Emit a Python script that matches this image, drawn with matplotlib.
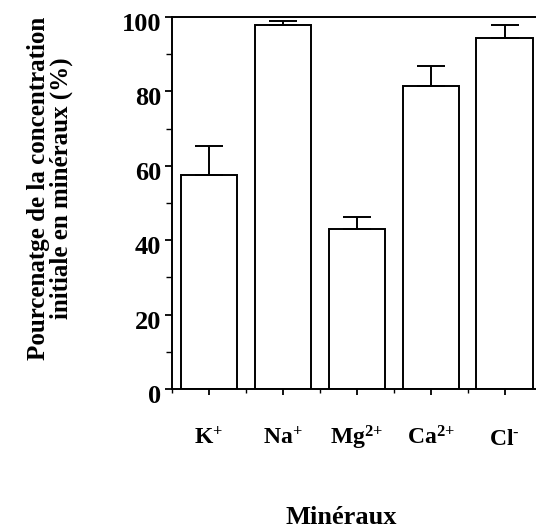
import matplotlib
matplotlib.use("Agg")
import matplotlib.pyplot as plt
import matplotlib.transforms as mtransforms
from matplotlib.ticker import MultipleLocator

categories = ["K$^{+}$", "Na$^{+}$", "Mg$^{2{+}}$", "Ca$^{2{+}}$", "Cl$^{\\text{-}}$"]
values = [57.5, 97.8, 42.9, 81.5, 94.4]
errors = [7.9, 1.0, 3.3, 5.3, 3.4]

plt.rcParams['font.family'] = ['Liberation Serif', 'DejaVu Serif']
plt.rcParams['font.weight'] = 'bold'
plt.rcParams['mathtext.fontset'] = 'custom'
plt.rcParams['mathtext.rm'] = 'Liberation Serif:bold'
plt.rcParams['mathtext.bf'] = 'Liberation Serif:bold'
plt.rcParams['mathtext.it'] = 'Liberation Serif:bold'

fig = plt.figure(figsize=(5.36, 5.31), dpi=100)
ax = fig.add_axes([172/536, 142/531, 369.5/536, 372/531])

x = list(range(len(categories)))
ax.bar(x, values, width=0.76, color='white', edgecolor='black', linewidth=1.4, zorder=2)
ax.errorbar(x, values, yerr=[[0]*len(errors), errors], fmt='none', ecolor='black',
            elinewidth=1.4, capsize=10, capthick=1.4, zorder=3)

ax.set_xlim(-0.5, 4.5)
ax.set_ylim(0, 100)
ax.spines['right'].set_visible(False)
for s in ['top', 'left', 'bottom']:
    ax.spines[s].set_linewidth(1.4)

ax.set_xticks(x)
ax.set_xticklabels(categories, fontsize=17, fontweight='bold', va='baseline')
ax.set_xticks([i + 0.5 for i in range(-1, 4)], minor=True)
ax.yaxis.set_major_locator(MultipleLocator(20))
ax.yaxis.set_minor_locator(MultipleLocator(10))
ax.tick_params(axis='x', which='major', length=4, width=1.3, pad=36, direction='out')
ax.tick_params(axis='x', which='minor', length=3, width=1.0, direction='out')
ax.tick_params(axis='y', which='major', length=5, width=1.3, pad=3, labelsize=19)
ax.tick_params(axis='y', which='minor', length=4, width=1.0)
offset = mtransforms.ScaledTranslation(0, -5/100, fig.dpi_scale_trans)
for lab in ax.get_yticklabels():
    lab.set_fontweight('bold')
    lab.set_transform(lab.get_transform() + offset)

fig.text(50/536, 1 - 188/531, "Pourcenatge de la concentration\ninitiale en minéraux (%)",
         rotation=90, ha='center', va='center', fontsize=18, fontweight='bold',
         linespacing=0.95)
fig.text(341/536, 1 - 524/531, "Minéraux", ha='center', va='baseline', fontsize=19,
         fontweight='bold')

fig.savefig("out.png", dpi=100)
